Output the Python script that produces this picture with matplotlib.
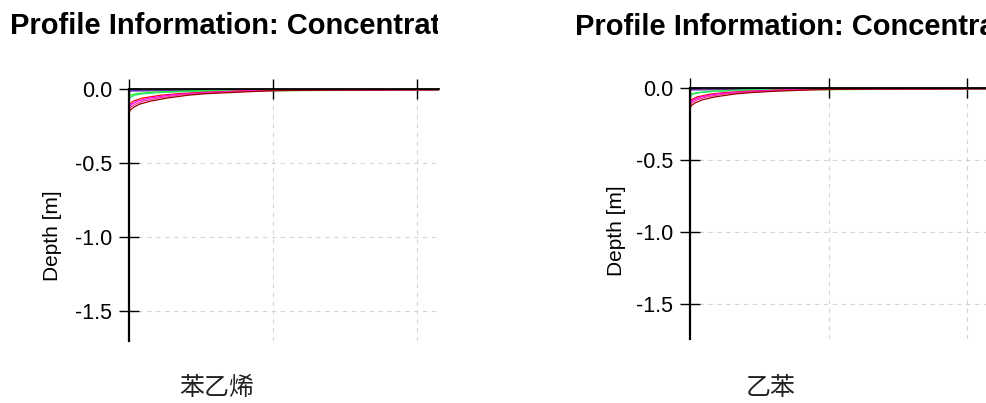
import matplotlib
matplotlib.use("Agg")
import matplotlib.pyplot as plt
from matplotlib.transforms import Bbox, TransformedBbox

plt.rcParams['font.family'] = ['Liberation Sans', 'DejaVu Sans']

# depth nodes [m] and concentration profiles
depth_left = [0.0, -0.005, -0.01, -0.02, -0.03, -0.04, -0.06, -0.08, -0.10, -0.12, -0.14, -0.16, -1.70]
depth_right = [0.0, -0.005, -0.01, -0.02, -0.03, -0.04, -0.06, -0.08, -0.10, -0.12, -0.14, -0.16, -1.75]

series_colors = ['#0000ff', '#7030a0', '#00ff00', '#33dd77', '#ff0000', '#ff00ff', '#ff3399', '#990000']

conc_left = [
    [0.55, 0.45, 0.0, 0, 0, 0, 0, 0, 0, 0, 0, 0, 0],                      # blue
    [1.05, 0.70, 0.0, 0, 0, 0, 0, 0, 0, 0, 0, 0, 0],                      # purple
    [3.0, 3.0, 0.45, 0.15, 0.05, 0.01, 0, 0, 0, 0, 0, 0, 0],              # green
    [3.0, 1.00, 0.60, 0.25, 0.10, 0.04, 0, 0, 0, 0, 0, 0, 0],             # lime
    [3.0, 1.15, 0.80, 0.52, 0.34, 0.22, 0.09, 0.03, 0.005, 0, 0, 0, 0],   # red
    [3.0, 1.20, 0.85, 0.58, 0.40, 0.28, 0.14, 0.06, 0.02, 0, 0, 0, 0],    # magenta
    [3.0, 1.30, 0.90, 0.65, 0.46, 0.34, 0.20, 0.10, 0.045, 0.012, 0, 0, 0],  # pink
    [3.0, 1.40, 0.98, 0.75, 0.53, 0.41, 0.26, 0.15, 0.075, 0.035, 0.01, 0, 0],  # dark red
]

conc_right = [
    [0.55, 0.45, 0.0, 0, 0, 0, 0, 0, 0, 0, 0, 0, 0],
    [1.05, 0.70, 0.0, 0, 0, 0, 0, 0, 0, 0, 0, 0, 0],
    [3.0, 3.0, 0.45, 0.15, 0.05, 0.01, 0, 0, 0, 0, 0, 0, 0],
    [3.0, 0.90, 0.50, 0.20, 0.07, 0.02, 0, 0, 0, 0, 0, 0, 0],
    [3.0, 1.05, 0.70, 0.42, 0.25, 0.15, 0.05, 0.01, 0, 0, 0, 0, 0],
    [3.0, 1.10, 0.75, 0.47, 0.30, 0.19, 0.08, 0.025, 0.005, 0, 0, 0, 0],
    [3.0, 1.20, 0.82, 0.54, 0.36, 0.25, 0.12, 0.05, 0.015, 0, 0, 0, 0],
    [3.0, 1.30, 0.90, 0.62, 0.44, 0.32, 0.18, 0.09, 0.04, 0.01, 0, 0, 0],
]

y_ticks = [0.0, -0.5, -1.0, -1.5]
y_tick_labels = ['0.0', '-0.5', '-1.0', '-1.5']
x_ticks = [0, 1, 2]

title_text = 'Profile Information: Concentration'
names = ['苯乙烯', '乙苯']

W, H = 986, 403
fig = plt.figure(figsize=(W / 100, H / 100), dpi=100)


def px_axes(x0, top, width, bottom):
    # pixel box (from top-left) -> figure fraction
    return fig.add_axes([x0 / W, 1 - bottom / H, width / W, (bottom - top) / H])


def setup(ax, depth, concs, ymin):
    for c, col in zip(concs, series_colors):
        ax.plot(c, depth, color=col, lw=0.9, solid_capstyle='butt')
    ax.set_xlim(0, 2.15)
    ax.set_ylim(ymin, 0)
    for s in ['bottom', 'right']:
        ax.spines[s].set_visible(False)
    ax.spines['top'].set_linewidth(1.3)
    ax.spines['left'].set_linewidth(1.6)
    ax.xaxis.tick_top()
    ax.set_xticks(x_ticks)
    ax.set_xticklabels([])
    ax.set_yticks(y_ticks)
    ax.set_yticklabels(y_tick_labels)
    ax.tick_params(axis='both', direction='inout', length=14, width=1.0, color='black')
    ax.tick_params(axis='y', labelsize=15.5, pad=5)
    ax.grid(True, color='#d4d4d4', ls=(0, (4, 4)), lw=0.8)
    ax.set_axisbelow(True)


ax1 = px_axes(129, 89.3, 309.6, 340.7)
setup(ax1, depth_left, conc_left, -1.70)
ax2 = px_axes(690, 88.3, 298.2, 339)
setup(ax2, depth_right, conc_right, -1.745)

# titles (left one cut at the panel edge like the original)
t1 = fig.text(10 / W, 1 - 34 / H, title_text, fontsize=21, fontweight='bold', va='baseline')
t1.set_clip_box(TransformedBbox(Bbox.from_extents(0, 0, 438 / W, 1), fig.transFigure))
t1.set_clip_on(True)
fig.text(575 / W, 1 - 35 / H, title_text, fontsize=21, fontweight='bold', va='baseline')

# depth labels
fig.text(52 / W, 1 - 236 / H, 'Depth [m]', rotation=90, fontsize=15, ha='center', va='center')
fig.text(616 / W, 1 - 231 / H, 'Depth [m]', rotation=90, fontsize=15, ha='center', va='center')

# substance names
cjk = ['Noto Sans CJK SC', 'DejaVu Sans']
fig.text(217 / W, 1 - 388 / H, names[0], family=cjk, fontsize=18, ha='center', va='center', color='#222222')
fig.text(771 / W, 1 - 388 / H, names[1], family=cjk, fontsize=18, ha='center', va='center', color='#222222')

fig.savefig('out.png', dpi=100)
